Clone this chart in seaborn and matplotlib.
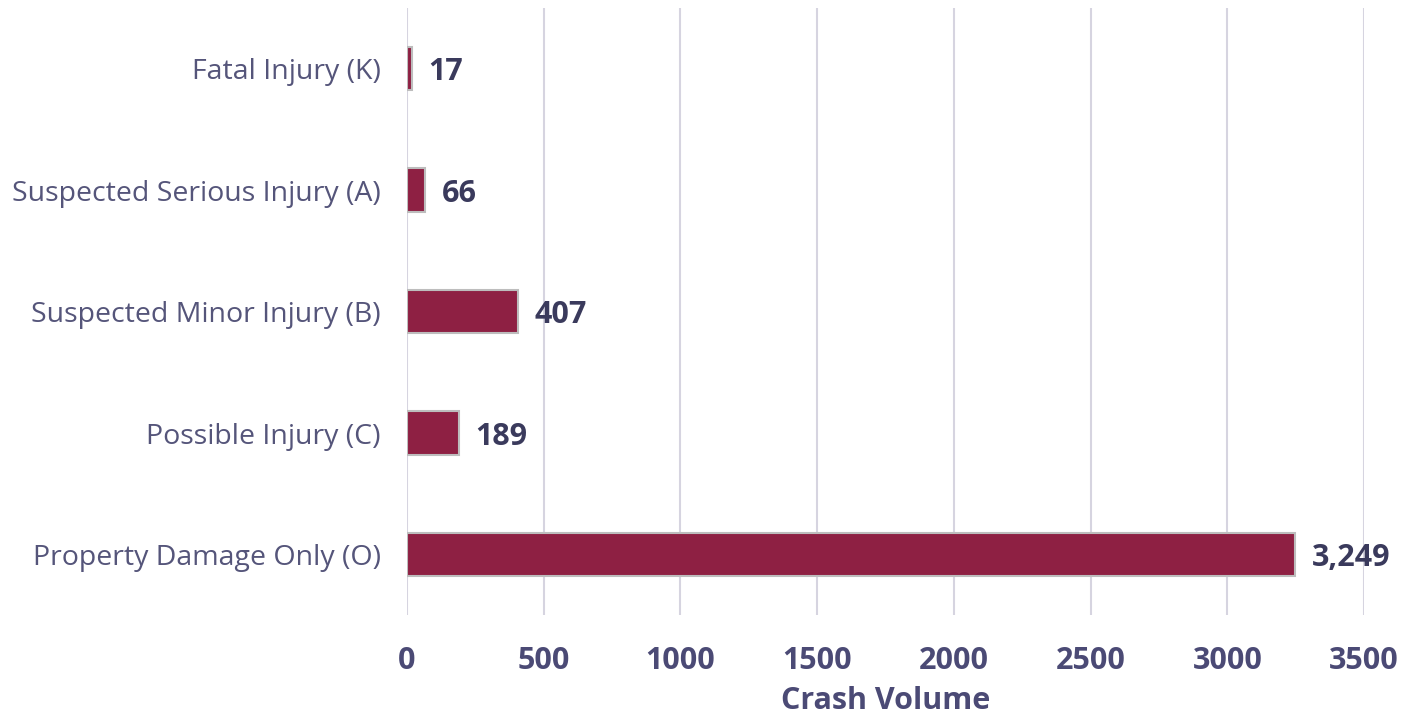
import matplotlib
matplotlib.use("Agg")
import matplotlib.pyplot as plt
import seaborn as sns
import pandas as pd

categories = [
    "Fatal Injury (K)",
    "Suspected Serious Injury (A)",
    "Suspected Minor Injury (B)",
    "Possible Injury (C)",
    "Property Damage Only (O)",
]
crashes = [17, 66, 407, 189, 3249]
x_ticks = [0, 500, 1000, 1500, 2000, 2500, 3000, 3500]

sns.set_theme(style="white")
plt.rcParams["font.family"] = ["Open Sans", "DejaVu Sans"]

df = pd.DataFrame({"category": categories, "crashes": crashes})

fig = plt.figure(figsize=(14.18, 7.13), dpi=100)
ax = fig.add_axes([0.287, 0.137, 0.675, 0.852])

sns.barplot(data=df, y="category", x="crashes", order=categories,
            color="#8E2043", saturation=1, width=0.36,
            edgecolor="#BDBDBD", linewidth=1.5, ax=ax, zorder=3)

ax.set_xlim(0, 3500)
ax.set_ylim(4.5, -0.5)
ax.set_xticks(x_ticks)
ax.set_xticklabels([str(t) for t in x_ticks], fontsize=22, fontweight="bold",
                   color="#4B4A75")
ax.tick_params(axis="x", length=0, pad=22)
ax.tick_params(axis="y", length=0, pad=19)
for lbl in ax.get_yticklabels():
    lbl.set_fontsize(20.5)
    lbl.set_color("#55557A")

ax.grid(axis="x", color="#D6D4E0", linewidth=1.5, zorder=0)
ax.grid(axis="y", visible=False)
for s in ax.spines.values():
    s.set_visible(False)

ax.set_ylabel("")
ax.set_xlabel("Crash Volume", fontsize=22, fontweight="bold", color="#4B4A75",
              labelpad=7)

for i, v in enumerate(crashes):
    ax.annotate(f"{v:,}", xy=(v, i), xytext=(12, 0), textcoords="offset points",
                va="center_baseline", ha="left", fontsize=22, fontweight="bold",
                color="#3A3A5C")

fig.savefig("out.png", dpi=100)
